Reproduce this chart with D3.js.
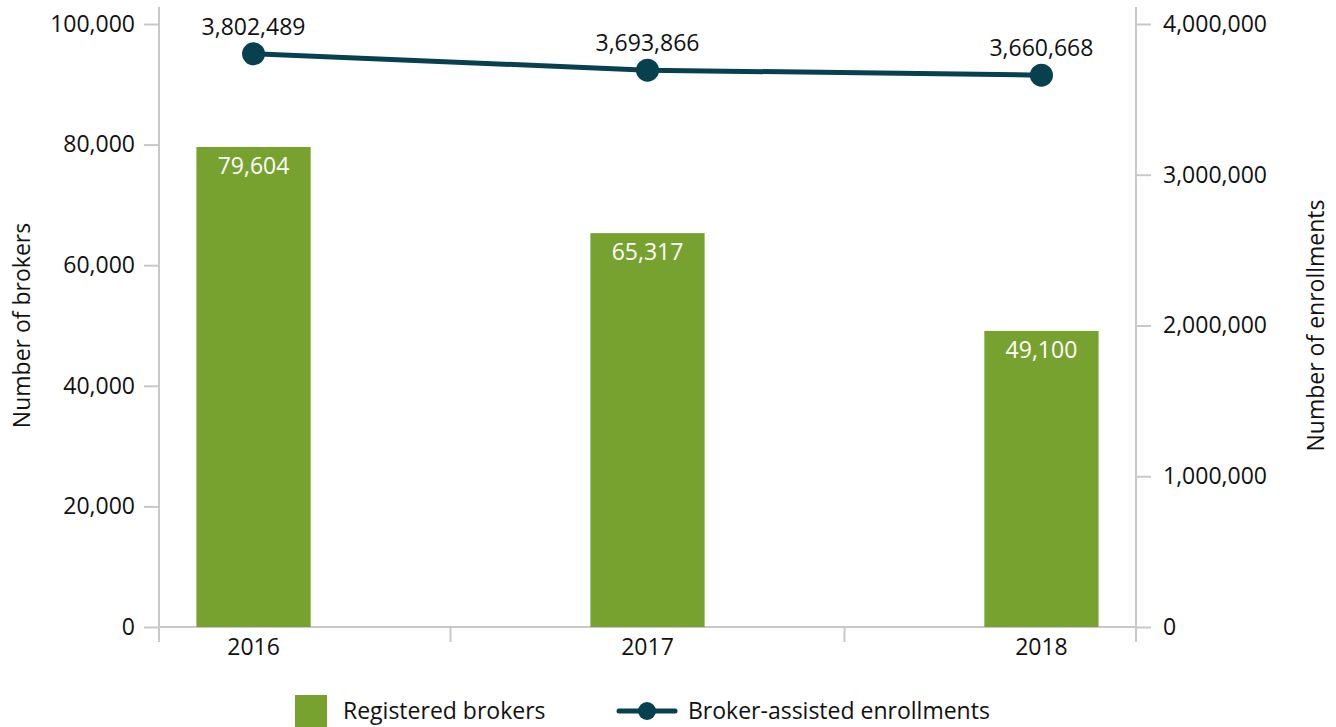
<!DOCTYPE html>
<html lang="en">
<head>
    <meta charset="UTF-8">
    <title>Brokers and broker-assisted enrollments</title>
    <script src="https://cdn.jsdelivr.net/npm/d3@7"></script>
    <style>
        body { margin: 0; background: #fff; }
        svg text { font-family: "Open Sans", sans-serif; fill: #111; }
    </style>
</head>
<body>
<script>
    // data
    var years = ["2016", "2017", "2018"];
    var brokers = [79604, 65317, 49100];
    var enrollments = [3802489, 3693866, 3660668];
    var leftTicks = [0, 20000, 40000, 60000, 80000, 100000];
    var rightTicks = [0, 1000000, 2000000, 3000000, 4000000];

    var width = 1336, height = 727;
    var plot = {left: 159, right: 1136, top: 24, bottom: 627};
    var axisColor = "#c8c8c8";
    var barColor = "#78a22f";
    var lineColor = "#07404f";
    var fs = 23;
    var fmt = d3.format(",");

    var svg = d3.select("body").append("svg")
        .attr("width", width)
        .attr("height", height);

    // scales
    var x = d3.scalePoint()
        .domain(years)
        .range([plot.left, plot.right])
        .padding(0.24);

    var yLeft = d3.scaleLinear().domain([0, 100000]).range([plot.bottom, plot.top]);
    var yRight = d3.scaleLinear().domain([0, 4000000]).range([plot.bottom, plot.top]);

    var barWidth = x.step() * 0.29;

    // left axis
    var gl = svg.append("g").attr("transform", "translate(" + plot.left + ",0)")
        .call(d3.axisLeft(yLeft).tickValues(leftTicks).tickSize(15).tickPadding(9).tickFormat(fmt));
    gl.select(".domain").remove();
    gl.selectAll(".tick line").attr("stroke", axisColor).attr("stroke-width", 2);
    gl.selectAll(".tick text").attr("font-size", fs).attr("fill", "#111");

    // right axis
    var gr = svg.append("g").attr("transform", "translate(" + plot.right + ",0)")
        .call(d3.axisRight(yRight).tickValues(rightTicks).tickSize(15).tickPadding(12).tickFormat(fmt));
    gr.select(".domain").remove();
    gr.selectAll(".tick line").attr("stroke", axisColor).attr("stroke-width", 2);
    gr.selectAll(".tick text").attr("font-size", fs).attr("fill", "#111");

    // axis lines
    svg.append("line").attr("x1", plot.left).attr("x2", plot.left).attr("y1", 7).attr("y2", plot.bottom + 15)
        .attr("stroke", axisColor).attr("stroke-width", 2);
    svg.append("line").attr("x1", plot.right).attr("x2", plot.right).attr("y1", 7).attr("y2", plot.bottom + 15)
        .attr("stroke", axisColor).attr("stroke-width", 2);
    svg.append("line").attr("x1", plot.left).attr("x2", plot.right).attr("y1", plot.bottom).attr("y2", plot.bottom)
        .attr("stroke", axisColor).attr("stroke-width", 2);

    // category boundary ticks (between the years)
    var bounds = [];
    for (var i = 0; i < years.length - 1; i++) {
        bounds.push((x(years[i]) + x(years[i + 1])) / 2);
    }
    svg.selectAll(".xtick").data(bounds).enter().append("line")
        .attr("x1", function (d) { return d; })
        .attr("x2", function (d) { return d; })
        .attr("y1", plot.bottom)
        .attr("y2", plot.bottom + 15)
        .attr("stroke", axisColor).attr("stroke-width", 2);

    // year labels
    svg.selectAll(".xlabel").data(years).enter().append("text")
        .attr("x", function (d) { return x(d); })
        .attr("y", plot.bottom + 28)
        .attr("text-anchor", "middle")
        .attr("font-size", fs)
        .text(function (d) { return d; });

    // bars
    svg.selectAll(".bar").data(brokers).enter().append("rect")
        .attr("x", function (d, i) { return x(years[i]) - barWidth / 2; })
        .attr("y", function (d) { return yLeft(d); })
        .attr("width", barWidth)
        .attr("height", function (d) { return plot.bottom - yLeft(d); })
        .attr("fill", barColor);

    svg.selectAll(".barlabel").data(brokers).enter().append("text")
        .attr("x", function (d, i) { return x(years[i]); })
        .attr("y", function (d) { return yLeft(d) + 27; })
        .attr("text-anchor", "middle")
        .attr("font-size", fs)
        .style("fill", "#fff")
        .text(function (d) { return fmt(d); });

    // line
    var line = d3.line()
        .x(function (d, i) { return x(years[i]); })
        .y(function (d) { return yRight(d); });

    svg.append("path").datum(enrollments)
        .attr("d", line)
        .attr("fill", "none")
        .attr("stroke", lineColor)
        .attr("stroke-width", 5);

    svg.selectAll(".dot").data(enrollments).enter().append("circle")
        .attr("cx", function (d, i) { return x(years[i]); })
        .attr("cy", function (d) { return yRight(d); })
        .attr("r", 11.5)
        .attr("fill", lineColor);

    svg.selectAll(".dotlabel").data(enrollments).enter().append("text")
        .attr("x", function (d, i) { return x(years[i]); })
        .attr("y", function (d) { return yRight(d) - 19; })
        .attr("text-anchor", "middle")
        .attr("font-size", fs)
        .text(function (d) { return fmt(d); });

    // axis titles
    svg.append("text")
        .attr("transform", "translate(30," + ((plot.top + plot.bottom) / 2) + ") rotate(-90)")
        .attr("text-anchor", "middle")
        .attr("font-size", fs)
        .text("Number of brokers");

    svg.append("text")
        .attr("transform", "translate(1324," + ((plot.top + plot.bottom) / 2) + ") rotate(-90)")
        .attr("text-anchor", "middle")
        .attr("font-size", fs)
        .text("Number of enrollments");

    // legend
    var lg = svg.append("g");
    lg.append("rect").attr("x", 295).attr("y", 695).attr("width", 32).attr("height", 32).attr("fill", barColor);
    lg.append("text").attr("x", 343).attr("y", 719).attr("font-size", fs).text("Registered brokers");
    lg.append("line").attr("x1", 619).attr("x2", 675).attr("y1", 711).attr("y2", 711)
        .attr("stroke", lineColor).attr("stroke-width", 5).attr("stroke-linecap", "round");
    lg.append("circle").attr("cx", 647).attr("cy", 711).attr("r", 9).attr("fill", lineColor);
    lg.append("text").attr("x", 688).attr("y", 719).attr("font-size", fs).text("Broker-assisted enrollments");
</script>
</body>
</html>
